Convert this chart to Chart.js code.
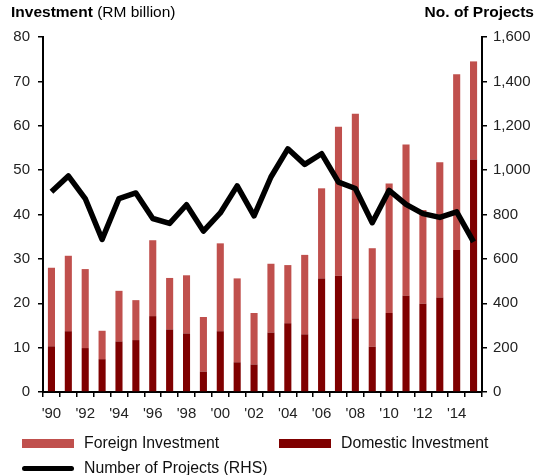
<!DOCTYPE html>
<html>
<head>
<meta charset="utf-8">
<script src="https://cdn.jsdelivr.net/npm/chart.js@4"></script>
<style>
  body { margin: 0; background: #fff; font-family: "Liberation Sans", Arial, sans-serif; }
  #wrap { position: relative; width: 540px; height: 475px; }
  .ttl { position: absolute; top: 3px; font-size: 15.5px; color: #000; }
  .leg { position: absolute; font-size: 15.8px; color: #111; display: flex; align-items: center; height: 18px; }
  .sw { display: inline-block; width: 52px; height: 9px; margin-right: 10px; }
  .ln { display: inline-block; width: 52px; height: 5px; border-radius: 3px; background: #000; margin-right: 10px; }
</style>
</head>
<body>
<div id="wrap">
  <canvas id="my-chart" width="540" height="475"></canvas>
  <div class="ttl" style="left:11px"><b>Investment</b> (RM billion)</div>
  <div class="ttl" style="right:6px"><b>No. of Projects</b></div>
  <div class="leg" style="left:22px; top:434px"><span class="sw" style="background:#C0504D"></span>Foreign Investment</div>
  <div class="leg" style="left:279px; top:434px"><span class="sw" style="background:#7F0000"></span>Domestic Investment</div>
  <div class="leg" style="left:22px; top:459px"><span class="ln"></span>Number of Projects (RHS)</div>
</div>
<script>
// years 1990 - 2015
const years = ["'90","'91","'92","'93","'94","'95","'96","'97","'98","'99","'00","'01","'02","'03","'04","'05","'06","'07","'08","'09","'10","'11","'12","'13","'14","'15"]
// RM billion
const domestic = [10.3, 13.7, 9.9, 7.4, 11.4, 11.7, 17.1, 14.1, 13.2, 4.6, 13.7, 6.7, 6.2, 13.4, 15.5, 13.0, 25.6, 26.2, 16.6, 10.2, 17.8, 21.7, 19.9, 21.3, 32.0, 52.4]
const foreign = [17.7, 17.0, 17.8, 6.4, 11.4, 9.0, 17.1, 11.6, 13.1, 12.3, 19.8, 18.9, 11.6, 15.5, 13.1, 17.9, 20.3, 33.6, 46.1, 22.2, 29.2, 34.1, 21.1, 30.5, 39.6, 22.1]
// number of projects (RHS)
const projects = [902, 974, 872, 688, 872, 897, 782, 760, 844, 725, 807, 929, 794, 969, 1096, 1026, 1074, 946, 917, 763, 909, 846, 804, 787, 812, 677]

const tickFont = { family: "Liberation Sans", size: 15 }

window.onload = function () {
  const ctx = document.getElementById("my-chart").getContext("2d")
  new Chart(ctx, {
    type: "bar",
    data: {
      labels: years,
      datasets: [
        {
          type: "line",
          label: "Number of Projects (RHS)",
          data: projects,
          yAxisID: "y2",
          borderColor: "#000",
          borderWidth: 5.5,
          borderJoinStyle: "round",
          pointRadius: 0,
          tension: 0,
          order: 0,
        },
        {
          label: "Domestic Investment",
          data: domestic,
          backgroundColor: "#7F0000",
          yAxisID: "y",
          barPercentage: 0.42,
          categoryPercentage: 1,
          order: 1,
        },
        {
          label: "Foreign Investment",
          data: foreign,
          backgroundColor: "#C0504D",
          yAxisID: "y",
          barPercentage: 0.42,
          categoryPercentage: 1,
          order: 1,
        },
      ],
    },
    options: {
      responsive: false,
      animation: false,
      layout: { padding: { top: 37, bottom: 48, left: 0, right: 0 } },
      plugins: { legend: { display: false }, tooltip: { enabled: false } },
      scales: {
        x: {
          stacked: true,
          grid: { display: true, drawOnChartArea: false, offset: true, color: "#000", tickLength: 5, lineWidth: 1.5 },
          border: { color: "#000", width: 2 },
          ticks: {
            font: tickFont, color: "#222", autoSkip: false, maxRotation: 0, padding: 8,
            callback: (v, i) => (i % 2 === 0 ? years[i] : ""),
          },
          afterFit: (s) => { s.height = 35 },
        },
        y: {
          stacked: true,
          position: "left",
          min: 0, max: 80,
          grid: { drawOnChartArea: false, color: "#000", tickLength: 5, lineWidth: 1.5 },
          border: { color: "#000", width: 2 },
          ticks: { stepSize: 10, font: tickFont, color: "#222", padding: 8 },
          afterFit: (s) => { s.width = 43 },
        },
        y2: {
          position: "right",
          min: 0, max: 1600,
          grid: { drawOnChartArea: false, color: "#000", tickLength: 5, lineWidth: 1.5 },
          border: { color: "#000", width: 2 },
          ticks: {
            stepSize: 200, font: tickFont, color: "#222", padding: 6,
            callback: (v) => v.toLocaleString("en-US"),
          },
          afterFit: (s) => { s.width = 58 },
        },
      },
    },
  })
}
</script>
</body>
</html>
